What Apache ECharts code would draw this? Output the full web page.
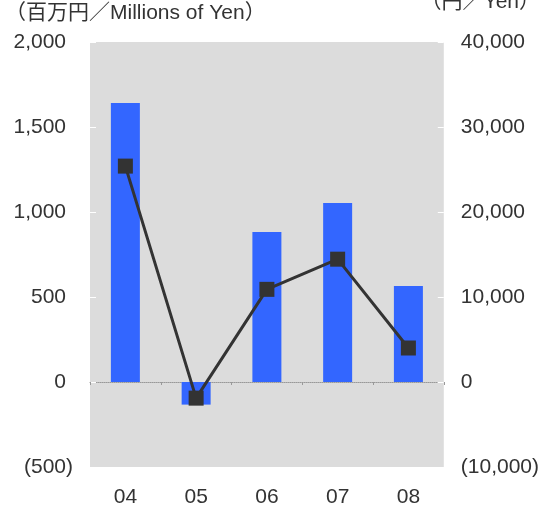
<!DOCTYPE html>
<html>
<head>
<meta charset="utf-8">
<script src="https://cdn.jsdelivr.net/npm/echarts@6/dist/echarts.min.js"></script>
<style>
  html, body { margin: 0; padding: 0; background: #fff; }
  #chart { width: 542px; height: 511px; }
</style>
</head>
<body>
<div id="chart"></div>
<script>
// 年度
const years = ['04', '05', '06', '07', '08'];
// 当期純利益 (百万円)
const netIncome = [1641, -133, 882, 1053, 565];
// 1株当たり (円)
const perShare = [25400, -1900, 10900, 14450, 4000];

const font = '"Liberation Sans", Arial, "Noto Sans CJK JP", sans-serif';

function fmt(v) {
  const s = Math.abs(v).toLocaleString('en-US');
  return v < 0 ? '(' + s + ')' : s;
}

const chart = echarts.init(document.getElementById('chart'));
chart.setOption({
  animation: false,
  textStyle: { fontFamily: font },
  grid: {
    left: 90, right: 98, top: 42, bottom: 44,
    show: true, backgroundColor: '#dcdcdc', borderWidth: 0
  },
  graphic: [
    { type: 'text', left: 5, top: 3,
      style: { text: '（百万円／Millions of Yen）', font: '21px ' + font, fill: '#333' } },
    { type: 'text', right: 2, top: -8,
      style: { text: '（円／Yen）', font: '21px ' + font, fill: '#333' } }
  ],
  xAxis: [
    {
      type: 'category', data: years, position: 'bottom',
      axisLine: { show: false, onZero: false },
      axisTick: { show: false },
      axisLabel: { color: '#333', fontSize: 21, margin: 20 }
    },
    {
      type: 'category', data: years,
      axisLine: { show: true, onZero: true, lineStyle: { color: '#999', type: 'dotted', width: 1 } },
      axisTick: { show: true, inside: true, length: 3, lineStyle: { color: '#999' } },
      axisLabel: { show: false }
    }
  ],
  yAxis: [
    {
      type: 'value', min: -500, max: 2000, interval: 500,
      axisLine: { show: false },
      axisTick: { show: true, inside: true, length: 6, lineStyle: { color: '#fff', width: 1 } },
      splitLine: { show: false },
      axisLabel: {
        color: '#333', fontSize: 21, margin: 17,
        formatter: v => v < 0 ? fmt(v) : '{p|' + fmt(v) + '}',
        rich: { p: { fontSize: 21, color: '#333', padding: [0, 7, 0, 0] } }
      }
    },
    {
      type: 'value', min: -10000, max: 40000, interval: 10000,
      axisLine: { show: false },
      axisTick: { show: true, inside: true, length: 6, lineStyle: { color: '#fff', width: 1 } },
      splitLine: { show: false },
      axisLabel: { color: '#333', fontSize: 21, margin: 17, formatter: fmt }
    }
  ],
  series: [
    {
      type: 'bar', data: netIncome, barWidth: 29,
      itemStyle: { color: '#3366ff' }
    },
    {
      type: 'line', yAxisIndex: 1, data: perShare,
      symbol: 'rect', symbolSize: 15,
      lineStyle: { color: '#333', width: 3 },
      itemStyle: { color: '#333' }
    }
  ]
});
</script>
</body>
</html>
